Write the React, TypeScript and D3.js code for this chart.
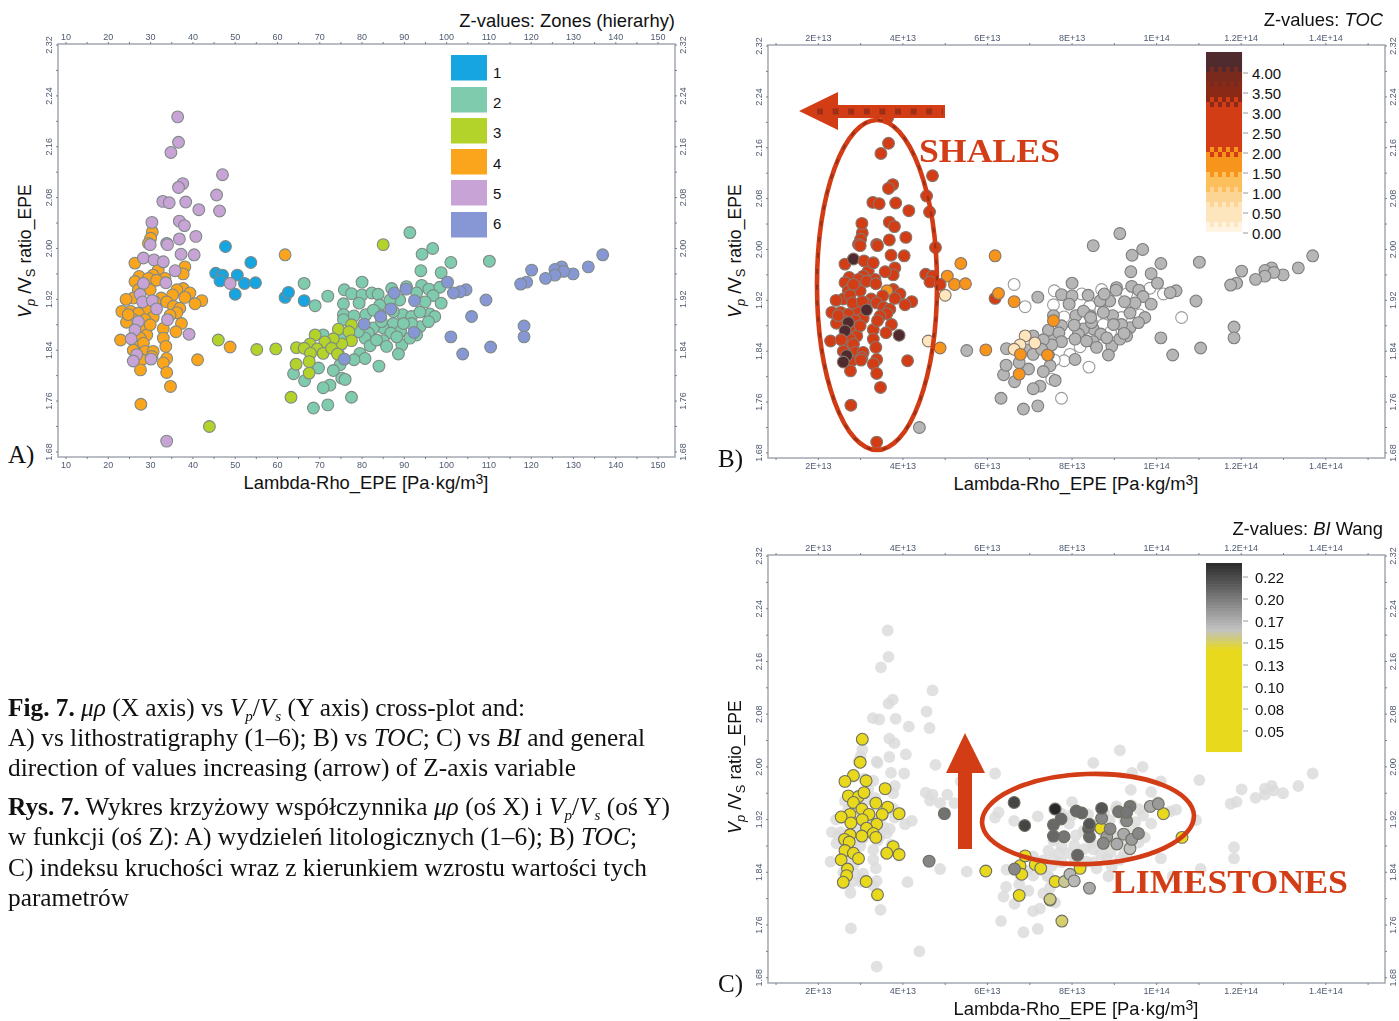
import React from "react";
import * as d3 from "d3";

// Lambda-Rho (x 1e12 Pa·kg/m3), Vp/Vs ratio, per lithostratigraphic zone
const zone1 = [[47.7,2.003],[53.7,1.978],[45.4,1.961],[47,1.958],[50.5,1.958],[46.4,1.949],[52.2,1.945],[54.8,1.946],[50,1.928],[61.8,1.923],[62.6,1.931],[66.3,1.918]];
const zone2 = [[91.3,2.025],[96.7,2],[94.2,1.991],[101,1.978],[110.1,1.98],[93.9,1.965],[98.7,1.962],[66.3,1.945],[80,1.947],[71.9,1.925],[68.9,1.91],[75.8,1.935],[77.5,1.929],[80,1.927],[82.3,1.93],[83.8,1.928],[87,1.937],[90.5,1.94],[94.1,1.942],[95.8,1.936],[98.4,1.939],[75.6,1.913],[79.3,1.914],[96.8,1.926],[98.7,1.914],[94.9,1.916],[92.9,1.93],[84.2,1.911],[88.9,1.919],[86.6,1.919],[75.6,1.896],[78.1,1.894],[80.9,1.896],[75.6,1.888],[89.6,1.896],[91.7,1.893],[96,1.897],[97.2,1.893],[93.7,1.9],[87.4,1.882],[85,1.875],[82.7,1.875],[89.1,1.87],[93.7,1.877],[95.7,1.885],[91.7,1.882],[89.8,1.882],[86.8,1.867],[81.5,1.867],[80.7,1.859],[85,1.855],[89.4,1.848],[81.9,1.847],[85.8,1.846],[88.6,1.834],[79.5,1.835],[80.7,1.827],[78.1,1.825],[84,1.815],[74.4,1.834],[74.8,1.817],[73.2,1.808],[69.7,1.812],[63.8,1.803],[66.4,1.792],[75.2,1.796],[76,1.794],[72.4,1.785],[70.8,1.781],[77.5,1.766],[71.9,1.754],[68.5,1.749],[70.8,1.864],[75.6,1.859],[84.2,1.896],[87.4,1.901],[82.7,1.903],[92.9,1.864],[91.3,1.859],[88.2,1.861],[83.4,1.856],[84.6,1.885],[79.1,1.869]];
const zone3 = [[85,2.006],[77.5,1.88],[74.4,1.873],[76.9,1.869],[68.9,1.864],[77.5,1.855],[75.2,1.85],[73.2,1.858],[71.2,1.853],[67.7,1.85],[64.5,1.844],[66.3,1.843],[69.4,1.842],[67.8,1.835],[70.8,1.835],[67.5,1.822],[64.4,1.818],[67.5,1.804],[63.2,1.766],[46,1.856],[55.1,1.841],[59.6,1.842],[43.9,1.72],[72.8,1.843],[74.2,1.834]];
const zone4 = [[61.8,1.99],[26.3,1.977],[38.1,1.971],[31.8,1.966],[37.7,1.96],[30.6,1.958],[27.3,1.956],[29.5,1.953],[26.3,1.948],[33.4,1.953],[37.7,1.937],[36.2,1.935],[29.9,1.935],[27.1,1.935],[39.3,1.93],[35.2,1.927],[32.5,1.922],[25.9,1.922],[24.2,1.92],[33.8,1.916],[38.1,1.923],[42.1,1.918],[40.5,1.913],[35.4,1.909],[36.9,1.906],[23.2,1.901],[25.3,1.901],[29.1,1.903],[27.1,1.898],[36.2,1.899],[30.6,1.892],[25.9,1.888],[24.3,1.884],[28.7,1.888],[37.3,1.882],[33,1.874],[36,1.869],[28.5,1.872],[29.1,1.864],[22.9,1.856],[27.5,1.859],[33,1.859],[26.7,1.846],[33.6,1.846],[28.3,1.851],[28.7,1.838],[30.6,1.838],[27.9,1.825],[33.8,1.827],[33,1.82],[27.6,1.809],[33.8,1.805],[41.1,1.825],[48.8,1.845],[34.7,1.783],[27.7,1.755],[30.4,2.026],[30,2.016],[29.5,2.008],[31.4,1.95],[29.9,1.88],[25.9,1.84],[30.3,1.83],[31,1.916],[24.7,1.896],[34.6,1.895]];
const zone5 = [[36.4,2.207],[36.6,2.167],[34.8,2.151],[47,2.116],[37.6,2.102],[36.6,2.096],[45.6,2.084],[32.9,2.074],[34.4,2.072],[38.3,2.073],[41.4,2.061],[46.3,2.059],[30.3,2.041],[36.8,2.043],[38,2.036],[36.8,2.015],[40.7,2.019],[33.8,2.008],[29.9,2.006],[34,2.006],[37.2,1.991],[40.3,1.99],[28.3,1.985],[30.8,1.982],[33,1.979],[35.8,1.965],[28.3,1.945],[33.6,1.946],[27.5,1.928],[28.1,1.916],[30.4,1.918],[31.4,1.905],[34,1.888],[27.1,1.885],[26.3,1.872],[25.4,1.858],[39.1,1.865],[26.7,1.833],[25.9,1.823],[30.1,1.826],[48.8,1.945],[33.8,1.697]];
const zone6 = [[136.9,1.99],[133.5,1.971],[129.9,1.96],[127.2,1.971],[125.6,1.967],[127.7,1.964],[125.6,1.958],[123.4,1.953],[120.1,1.966],[118.9,1.947],[117.5,1.944],[109.3,1.919],[105.9,1.893],[104.6,1.935],[103.2,1.932],[101.6,1.93],[100.2,1.947],[90.4,1.936],[87.6,1.93],[92.4,1.918],[86.8,1.905],[84.4,1.893],[80.5,1.881],[92.3,1.868],[101,1.861],[118.3,1.878],[118.3,1.861],[110.4,1.845],[103.8,1.834],[75.8,1.826]];
const zones = [zone1, zone2, zone3, zone4, zone5, zone6];
const zoneColors = ["#12a5e0", "#7fcbad", "#b3d22a", "#fba51d", "#c7a3d6", "#8797d5"];
const zoneLabels = ["1", "2", "3", "4", "5", "6"];

// TOC: base value per zone (-1 = grey, no TOC), then point overrides
const tocBase = [2.6, -1, -1, 2.6, 2.6, -1];
const tocWhite = [[66.3,1.945],[75.8,1.935],[82.3,1.93],[75.6,1.913],[68.9,1.91],[87,1.937],[86.8,1.905],[91.7,1.893],[96,1.897],[87.4,1.882],[79.1,1.869],[81.9,1.847],[84,1.815],[77.5,1.766],[78.1,1.825],[75.8,1.826],[79.5,1.835],[75.2,1.796],[78.1,1.894],[92.9,1.93],[98.4,1.939],[101.6,1.93],[105.9,1.893],[84.2,1.911],[89.1,1.87]];
const tocCream = [[68.9,1.864],[66.3,1.843],[67.7,1.85],[71.2,1.853],[50,1.928],[46,1.856]];
const tocOrange = [[75.6,1.888],[74.2,1.834],[67.5,1.804],[67.8,1.835],[53.7,1.978],[50.5,1.958],[52.2,1.945],[54.8,1.946],[62.6,1.931],[66.3,1.918],[61.8,1.99],[59.6,1.842],[48.8,1.845],[36.2,1.935]];
const tocDark = [[28.3,1.985],[31.4,1.905],[39.1,1.865],[25.9,1.823],[26.7,1.833],[26.3,1.872],[27.1,1.885]];
const tocTicks = [4, 3.5, 3, 2.5, 2, 1.5, 1, 0.5, 0];
const tocBreaks = [0.2, 0.7, 1.07, 1.45, 2.02, 3.3, 3.7, 4.07];
const tocColors = ["#fff4e4", "#fde6bd", "#fcd594", "#fdbf5c", "#f7941d", "#d23d18", "#8a2a14", "#7a2a1c", "#4f2b2d"];

// BI: [lambda-rho, ratio, BI]
const biPoints = [[30.4,2.042,.1],[29.9,2.007,.1],[28.3,1.987,.1],[26.3,1.978,.1],[31.3,1.979,.1],[35.8,1.967,.1],[27.1,1.956,.1],[29.5,1.955,.1],[30.8,1.961,.1],[28.3,1.946,.1],[33.6,1.945,.1],[36.4,1.939,.1],[30.3,1.936,.1],[27.5,1.928,.1],[25.4,1.924,.1],[32,1.928,.1],[35.1,1.928,.1],[39.1,1.929,.1],[30.4,1.92,.1],[27.7,1.915,.1],[33.8,1.913,.1],[31.4,1.907,.1],[30.3,1.895,.1],[33,1.899,.1],[33.6,1.893,.1],[27.5,1.897,.1],[26.2,1.89,.1],[27.3,1.886,.1],[37.7,1.879,.1],[36.2,1.869,.1],[39.1,1.867,.1],[26.3,1.873,.1],[28.3,1.869,.1],[29.5,1.861,.1],[25.4,1.859,.1],[26.9,1.845,.1],[26.7,1.835,.1],[25.9,1.825,.1],[31.3,1.826,.1],[34,1.806,.1],[59.6,1.842,.1],[67.7,1.85,.1],[68.1,1.837,.1],[71.3,1.852,.1],[72.6,1.846,.1],[76,1.826,.1],[67.5,1.805,.1],[81.9,1.846,.1],[68.9,1.865,.1],[101.6,1.929,.1],[86.8,1.907,.1],[106,1.893,.1],
[49.8,1.929,.205],[66.3,1.946,.228],[68.8,1.911,.228],[76,1.936,.24],[46.2,1.857,.195],[77.4,1.921,.21],[75.6,1.912,.21],[75.6,1.895,.21],[78.1,1.894,.203],[81,1.933,.21],[82.3,1.93,.21],[87,1.937,.22],[91,1.932,.203],[93.7,1.94,.203],[92.9,1.931,.203],[92.9,1.918,.194],[87,1.922,.194],[84.1,1.913,.22],[83.9,1.906,.215],[84.1,1.894,.211],[89,1.906,.194],[87.4,1.884,.194],[88.2,1.894,.185],[92.2,1.898,.177],[95.7,1.899,.194],[94.1,1.89,.185],[90.6,1.883,.177],[93.7,1.876,.166],[81.3,1.866,.211],[98.5,1.94,.177],[100.4,1.944,.185],[66.4,1.845,.194],[79.5,1.837,.17],[78.2,1.826,.158],[80.5,1.827,.17],[84.1,1.816,.177],[74.8,1.798,.15],[77.6,1.766,.152],[74.8,1.799,.155]];
const biTicks = [.05, .075, .1, .125, .15, .175, .2, .225];
const biTickLabels = ["0.05", "0.08", "0.10", "0.13", "0.15", "0.17", "0.20", "0.22"];

const xTicksA = d3.range(10, 151, 10);
const xTicksBC = [20, 40, 60, 80, 100, 120, 140];
const xTickLabelsBC = ["2E+13", "4E+13", "6E+13", "8E+13", "1E+14", "1.2E+14", "1.4E+14"];
const yTicks = [2.32, 2.24, 2.16, 2.08, 2.0, 1.92, 1.84, 1.76, 1.68];

type P = [number, number];
const X_DOMAIN: P = [8.1, 154];
const Y_DOMAIN: P = [2.3216, 1.672];
const RED = "#d23d18";
const SANS = "'Liberation Sans', Arial, sans-serif";
const SERIF = "'Liberation Serif', 'Times New Roman', serif";
const TICK = "#4f5a70";

const tocColor = d3.scaleThreshold<number, string>().domain(tocBreaks).range(tocColors);
const biColor = (v: number) =>
  v <= 0.142 ? "#e8d91e" : d3.scaleLinear<string>().domain([0.142, 0.155, 0.165, 0.241]).range(["#e8d91e", "#cfcb80", "#c2c2c2", "#2a2a2a"]).clamp(true)(v);

function key(x: number, y: number) { return x + "|" + y; }
function Axes({ x, y, xt, xl }: any) {
  const [l, r] = x.range();
  const [t, b] = y.range();
  const minorX = xl ? d3.range(10, 151, 10) : d3.range(10, 151, 5);
  const minorY = d3.range(1.68, 2.33, 0.04);
  const yLab = (px: number, v: number, k: string) => (
    <text key={k} transform={`translate(${px},${y(v)}) rotate(-90)`} textAnchor="middle" fontSize={9} fill={TICK} fontFamily={SANS}>{v.toFixed(2)}</text>
  );
  return (
    <g>
      <rect x={l} y={t} width={r - l} height={b - t} fill="#fff" stroke="#a9adb5" strokeWidth={1.6} />
      <g filter="url(#soft)">
        {minorX.map((v: number) => (
          <g key={v}>
            <line x1={x(v)} x2={x(v)} y1={t} y2={t - 2} stroke="#7a7f8a" />
            <line x1={x(v)} x2={x(v)} y1={b} y2={b + 2} stroke="#7a7f8a" />
          </g>
        ))}
        {minorY.map((v: number) => (
          <g key={v}>
            <line y1={y(v)} y2={y(v)} x1={l} x2={l - 2} stroke="#7a7f8a" />
            <line y1={y(v)} y2={y(v)} x1={r} x2={r + 2} stroke="#7a7f8a" />
          </g>
        ))}
        {xt.map((v: number, i: number) => {
          const s = xl ? xl[i] : String(v);
          return (
            <g key={v} fontSize={9} fill={TICK} fontFamily={SANS} textAnchor="middle">
              <text x={x(v)} y={t - 4}>{s}</text>
              <text x={x(v)} y={b + 11}>{s}</text>
            </g>
          );
        })}
        {yTicks.map((v) => yLab(l - 6, v, "l" + v))}
        {yTicks.map((v) => yLab(r + 11, v, "r" + v))}
      </g>
    </g>
  );
}

function Dots({ items, x, y }: any) {
  return (
    <g filter="url(#soft)">
      {items.map((d: any, i: number) => (
        <circle key={i} cx={x(d.x)} cy={y(d.y)} r={5.9} fill={d.fill} stroke={d.stroke} strokeWidth={d.stroke === "none" ? 0 : 1.1} opacity={d.opacity ?? 1} />
      ))}
    </g>
  );
}

function Titles({ cx, xBase, yx, yMid, right, titleBase, title }: any) {
  return (
    <g fontFamily={SANS} fill="#111">
      <text x={cx} y={xBase} textAnchor="middle" fontSize={18.4}>
        Lambda-Rho_EPE [Pa·kg/m<tspan dy={-5} fontSize={14}>3</tspan><tspan dy={5}>]</tspan>
      </text>
      <text transform={`translate(${yx},${yMid}) rotate(-90)`} textAnchor="middle" fontSize={17.6}>
        <tspan fontStyle="italic">V</tspan><tspan fontStyle="italic" dy={4} fontSize={13}>p</tspan>
        <tspan dy={-4}> /V</tspan><tspan dy={4} fontSize={13}>S</tspan><tspan dy={-4}>  ratio_EPE</tspan>
      </text>
      <text x={right} y={titleBase} textAnchor="end" fontSize={18.4}>{title}</text>
    </g>
  );
}

const caption: any[][] = [
  [["Fig. 7.", "b"], [" ", ""], ["μρ", "i"], [" (X axis) vs ", ""], ["V", "i"], ["p", "s"], ["/", "n"], ["V", "i"], ["s", "s"], [" (Y axis) cross-plot and:", "n"]],
  [["A) vs lithostratigraphy (1–6); B) vs ", ""], ["TOC", "i"], ["; C) vs ", ""], ["BI", "i"], [" and general", ""]],
  [["direction of values increasing (arrow) of Z-axis variable", ""]],
  [["Rys. 7.", "b"], [" Wykres krzyżowy współczynnika ", ""], ["μρ", "i"], [" (oś X) i ", ""], ["V", "i"], ["p", "s"], ["/", "n"], ["V", "i"], ["s", "s"], [" (oś Y)", "n"]],
  [["w funkcji (oś Z): A) wydzieleń litologicznych (1–6); B) ", ""], ["TOC", "i"], [";", ""]],
  [["C) indeksu kruchości wraz z kierunkiem wzrostu wartości tych", ""]],
  [["parametrów", ""]],
];
const captionBase = [716, 746, 776, 815, 845, 876, 906];
const captionWidth = [517, 637, 568, 662, 629, 639, 121];

function CaptionLine({ segs, y, w }: any) {
  let shift = 0;
  return (
    <text x={8} y={y} fontFamily={SERIF} fontSize={25} fill="#111" textLength={w} lengthAdjust="spacingAndGlyphs" xmlSpace="preserve">
      {segs.map(([t, k]: [string, string], i: number) => {
        const isSub = k === "s";
        const dy = (isSub ? 5 : 0) - shift;
        shift = isSub ? 5 : 0;
        return (
          <tspan key={i} dy={dy} fontWeight={k === "b" ? "bold" : "normal"} fontStyle={k === "i" || isSub ? "italic" : "normal"} fontSize={isSub ? 15 : 25}>{t}</tspan>
        );
      })}
    </text>
  );
}

export default function App() {
  const xA = d3.scaleLinear().domain(X_DOMAIN).range([58, 675]);
  const yA = d3.scaleLinear().domain(Y_DOMAIN).range([44, 457]);
  const xB = d3.scaleLinear().domain(X_DOMAIN).range([768, 1385]);
  const yB = d3.scaleLinear().domain(Y_DOMAIN).range([45, 458]);
  const xC = xB;
  const yC = d3.scaleLinear().domain(Y_DOMAIN).range([555, 983]);

  const itemsA = zones.flatMap((z, i) => z.map(([x, y]) => ({ x, y, fill: zoneColors[i], stroke: "#7f8a86" })));

  const over = new Map<string, number>();
  tocWhite.forEach(([a, b]) => over.set(key(a, b), 0));
  tocCream.forEach(([a, b]) => over.set(key(a, b), 0.5));
  tocOrange.forEach(([a, b]) => over.set(key(a, b), 1.8));
  tocDark.forEach(([a, b]) => over.set(key(a, b), 4.3));
  const itemsB = zones.flatMap((z, i) => z.map(([x, y]) => {
    const t = over.has(key(x, y)) ? (over.get(key(x, y)) as number) : tocBase[i];
    if (t < 0) return { x, y, fill: "#b6b6b6", stroke: "#7d7d7d", ord: 1 };
    if (t === 0) return { x, y, fill: "#ffffff", stroke: "#9a9a9a", ord: 0 };
    return { x, y, fill: tocColor(t), stroke: "#86766c", ord: 2 };
  })).sort((a, b) => a.ord - b.ord);

  const itemsCbase = zones.flat().map(([x, y]) => ({ x, y, fill: "#dcdcdc", stroke: "none", opacity: 0.85 }));
  const itemsC = biPoints.slice().sort((a, b) => a[2] - b[2]).map(([x, y, v]) => ({ x, y, fill: biColor(v), stroke: "#6f6f62" }));

  // colour bars are drawn through scales of the z variable
  const tocBar = d3.scaleLinear().domain([0, 4]).range([233, 73]);
  const tocRows = d3.range(52, 232, 5);
  const biBar = d3.scaleLinear().domain([0.05, 0.225]).range([731, 577]);
  const biRows = d3.range(563, 750, 3);
  const cols = d3.range(0, 9);

  return (
    <svg width={1399} height={1021} viewBox="0 0 1399 1021" style={{ position: "absolute", left: 0, top: 0, display: "block" }}>
      <defs>
        <filter id="soft" x="-2%" y="-2%" width="104%" height="104%"><feGaussianBlur stdDeviation="0.6" /></filter>
        <filter id="soft2" x="-5%" y="-5%" width="110%" height="110%"><feGaussianBlur stdDeviation="0.4" /></filter>
      </defs>
      <rect width={1399} height={1021} fill="#fff" />

      {/* Panel A */}
      <Axes x={xA} y={yA} xt={xTicksA} />
      <Dots items={itemsA} x={xA} y={yA} />
      <g filter="url(#soft2)">
        {zoneColors.map((c, i) => (
          <rect key={c} x={451} y={[55, 87, 118, 149, 180, 212][i]} width={36} height={25.5} fill={c} />
        ))}
      </g>
      <g fontFamily={SANS} fontSize={15} fill="#111">
        {zoneLabels.map((s, i) => (
          <text key={s} x={493} y={[78, 108, 138, 169, 199, 229][i]}>{s}</text>
        ))}
      </g>
      <Titles cx={366} xBase={489} yx={31} yMid={251} right={675} titleBase={27} title="Z-values: Zones (hierarhy)" />
      <text x={8} y={463} fontFamily={SERIF} fontSize={25} fill="#111">A)</text>

      {/* Panel B */}
      <Axes x={xB} y={yB} xt={xTicksBC} xl={xTickLabelsBC} />
      <Dots items={itemsB} x={xB} y={yB} />
      <g filter="url(#soft2)">
        {tocRows.map((py) => cols.map((c) => {
          const v = tocBar.invert(py + 2.5) + (((py - 52) / 5 + c) % 2 ? 0.09 : -0.09);
          return <rect key={py + "-" + c} x={1206 + c * 4} y={py} width={4.05} height={5.05} fill={tocColor(v)} />;
        }))}
      </g>
      <g fontFamily={SANS} fontSize={15} fill="#111">
        {tocTicks.map((v) => (
          <g key={v}>
            <line x1={1243} x2={1248} y1={tocBar(v)} y2={tocBar(v)} stroke="#999" />
            <text x={1252} y={tocBar(v) + 5.5}>{v.toFixed(2)}</text>
          </g>
        ))}
      </g>
      <g filter="url(#soft2)">
        <ellipse cx={877} cy={285} rx={60} ry={165} fill="none" stroke={RED} strokeWidth={4.6} />
        <ellipse cx={877} cy={285} rx={60} ry={165} fill="none" stroke="#7a2a14" strokeWidth={2} strokeDasharray="5 11" opacity={0.7} />
        <path d="M799,111 L838,92 L838,105 L945,105 L945,118 L838,118 L838,130 Z" fill={RED} />
        <line x1={817} x2={943} y1={111.5} y2={111.5} stroke="#8a2a14" strokeWidth={6} strokeDasharray="6 9.6" opacity={0.7} />
        <text x={919} y={162} fontFamily={SERIF} fontWeight="bold" fontSize={33.5} fill={RED} textLength={141} lengthAdjust="spacingAndGlyphs">SHALES</text>
      </g>
      <Titles cx={1076} xBase={490} yx={741} yMid={251} right={1383} titleBase={26} title={<><tspan>Z-values: </tspan><tspan fontStyle="italic">TOC</tspan></>} />
      <text x={718} y={467} fontFamily={SERIF} fontSize={25} fill="#111">B)</text>

      {/* Panel C */}
      <Axes x={xC} y={yC} xt={xTicksBC} xl={xTickLabelsBC} />
      <Dots items={itemsCbase} x={xC} y={yC} />
      <Dots items={itemsC} x={xC} y={yC} />
      <g filter="url(#soft2)">
        {biRows.map((py) => (
          <rect key={py} x={1206} y={py} width={36} height={3.05} fill={biColor(biBar.invert(py + 1.5))} />
        ))}
      </g>
      <g fontFamily={SANS} fontSize={15} fill="#111">
        {biTicks.map((v, i) => (
          <g key={v}>
            <line x1={1243} x2={1248} y1={biBar(v)} y2={biBar(v)} stroke="#999" />
            <text x={1255} y={biBar(v) + 5.5}>{biTickLabels[i]}</text>
          </g>
        ))}
      </g>
      <g filter="url(#soft2)">
        <ellipse cx={1088} cy={819} rx={106} ry={45} transform="rotate(-2 1088 819)" fill="none" stroke={RED} strokeWidth={4.6} />
        <path d="M965,733 L985,773 L972,773 L972,849 L958,849 L958,773 L946,773 Z" fill={RED} />
        <text x={1112} y={893} fontFamily={SERIF} fontWeight="bold" fontSize={33.5} fill={RED} textLength={236} lengthAdjust="spacingAndGlyphs">LIMESTONES</text>
      </g>
      <Titles cx={1076} xBase={1015} yx={741} yMid={767} right={1383} titleBase={535} title={<><tspan>Z-values: </tspan><tspan fontStyle="italic">BI</tspan><tspan> Wang</tspan></>} />
      <text x={718} y={992} fontFamily={SERIF} fontSize={25} fill="#111">C)</text>

      {/* Caption */}
      {caption.map((segs, i) => (
        <CaptionLine key={i} segs={segs} y={captionBase[i]} w={captionWidth[i]} />
      ))}
    </svg>
  );
}
